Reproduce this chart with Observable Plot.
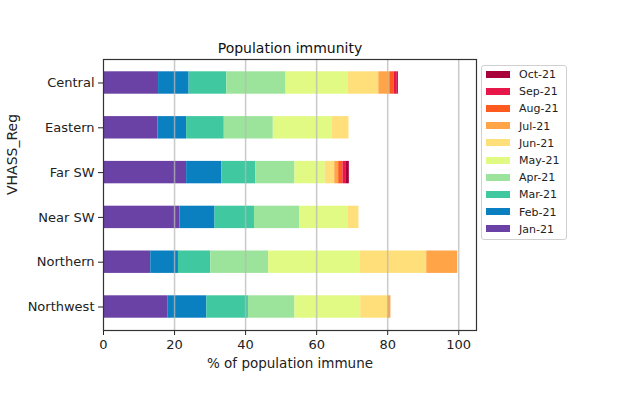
<!DOCTYPE html>
<html><head><meta charset="utf-8">
<script src="https://cdn.jsdelivr.net/npm/d3@7"></script>
<script src="https://cdn.jsdelivr.net/npm/@observablehq/plot@0.6"></script>
<style>
body{margin:0;background:#fff;font-family:"DejaVu Sans",sans-serif;}
#wrap{position:relative;width:618px;height:395px;}
#legend{position:absolute;left:481px;top:65px;width:86px;height:175px;border:1px solid #d0d0d0;border-radius:3px;box-sizing:border-box;background:#fff;}
.row{position:absolute;left:4px;height:12px;font-size:11px;color:#222;line-height:12px;white-space:nowrap;}
.sw{display:inline-block;width:24px;height:7px;vertical-align:middle;margin-right:9px;position:relative;top:-1px;}
</style></head><body><div id="wrap"></div>
<script>
const regions = ["Central", "Eastern", "Far SW", "Near SW", "Northern", "Northwest"];
const months = ["Jan-21", "Feb-21", "Mar-21", "Apr-21", "May-21", "Jun-21", "Jul-21", "Aug-21", "Sep-21", "Oct-21"];
const colors = ["#6a41a5", "#0a80c0", "#40c8a0", "#9ce39c", "#e1fa84", "#ffdf7a", "#ffa447", "#ff5a1f", "#e8174a", "#a8003a"];
// values per month, in order of regions
const jan = [15.5, 15.3, 23.4, 21.5, 13.3, 18.2];
const feb = [8.6, 8.1, 9.9, 9.9, 7.8, 10.9];
const mar = [10.6, 10.6, 9.6, 11.1, 9.1, 11.7];
const apr = [16.7, 13.8, 11.0, 12.7, 16.3, 13.1];
const may = [17.4, 16.6, 8.5, 13.6, 25.8, 18.5];
const jun = [8.7, 4.7, 2.7, 3.1, 18.7, 7.7];
const jul = [3.1, 0, 1.1, 0, 8.7, 0.8];
const aug = [1.2, 0, 1.2, 0, 0, 0];
const sep = [0.9, 0, 0.8, 0, 0, 0];
const oct = [0.3, 0, 1.0, 0, 0, 0];
const xTicks = [0, 20, 40, 60, 80, 100];
const title = "Population immunity";
const xLabel = "% of population immune";
const yLabel = "VHASS_Reg";

const series = [jan, feb, mar, apr, may, jun, jul, aug, sep, oct];
const data = [];
regions.forEach((r, i) => series.forEach((s, m) => data.push({region: r, month: months[m], value: s[i]})));

const chart = Plot.plot({
  width: 618, height: 395,
  marginLeft: 103, marginRight: 142, marginTop: 59, marginBottom: 65,
  style: {fontFamily: "DejaVu Sans, sans-serif", fontSize: "13px", color: "#222", background: "#fff"},
  x: {domain: [0, 105], ticks: xTicks, label: null, tickSize: 5, tickPadding: 4},
  y: {domain: regions, paddingInner: 0.5, paddingOuter: 0.2745, round: false, label: null, tickSize: 5, tickPadding: 4},
  color: {domain: months, range: colors},
  marks: [
    Plot.barX(data, Plot.stackX({x: "value", y: "region", fill: "month", order: months})),
    Plot.ruleX([20, 40, 60, 80, 100], {stroke: "#b8b8b8", strokeOpacity: 0.75, strokeWidth: 1.5}),
    Plot.frame({stroke: "#333", strokeWidth: 1.2}),
    Plot.text([title], {frameAnchor: "top", dy: -11, lineAnchor: "middle", fontSize: 14, fill: "#111"}),
    Plot.text([xLabel], {frameAnchor: "bottom", dy: 33, lineAnchor: "middle", fontSize: 13.5, fill: "#222"}),
    Plot.text([yLabel], {frameAnchor: "left", dx: -91, rotate: -90, lineAnchor: "middle", fontSize: 14, fill: "#222"})
  ]
});
const wrap = document.getElementById("wrap");
wrap.appendChild(chart);

const legend = document.createElement("div");
legend.id = "legend";
months.slice().reverse().forEach((m, i) => {
  const row = document.createElement("div");
  row.className = "row";
  row.style.top = (3 + i * 17.2) + "px";
  const sw = document.createElement("span");
  sw.className = "sw";
  sw.style.background = colors[months.indexOf(m)];
  row.appendChild(sw);
  row.appendChild(document.createTextNode(m));
  legend.appendChild(row);
});
wrap.appendChild(legend);
</script></body></html>
